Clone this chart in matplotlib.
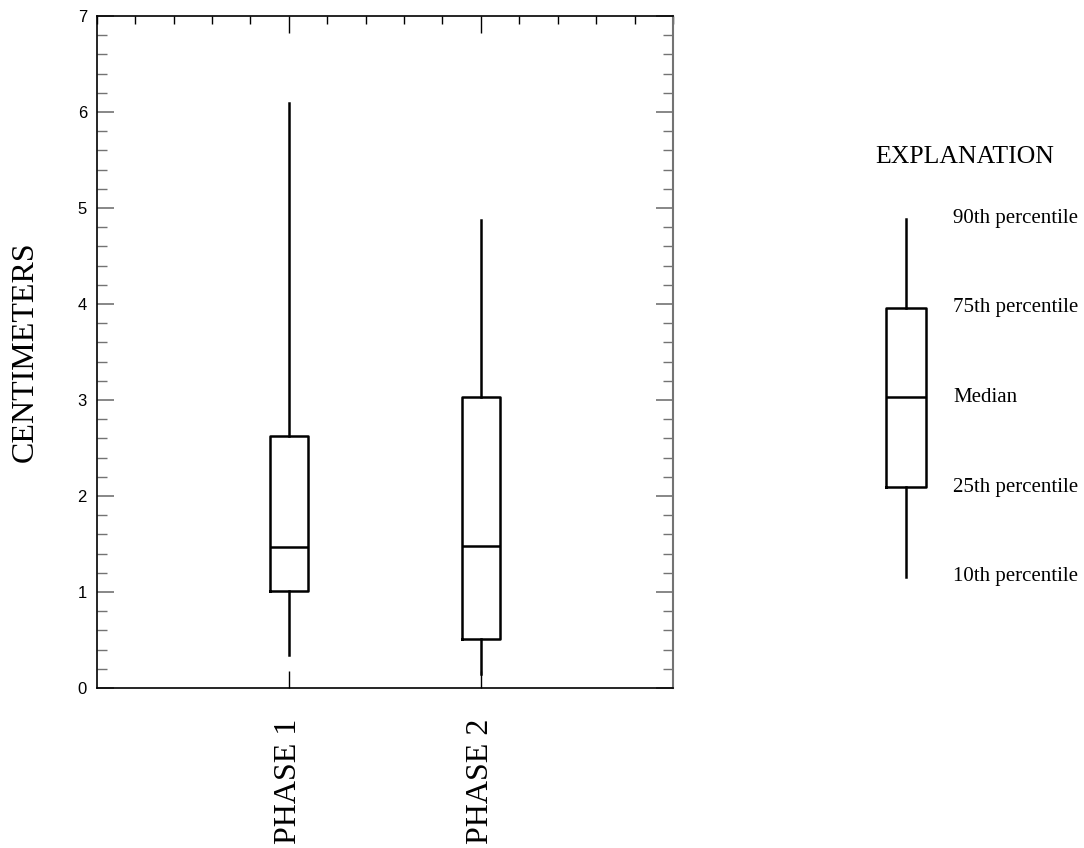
import matplotlib
matplotlib.use('Agg')
import matplotlib.pyplot as plt
from matplotlib.ticker import MultipleLocator

# Hodnoty odčítané z grafu (cm)
faze = ['PHASE 1', 'PHASE 2']
p10 = [0.34, 0.15]
p25 = [1.01, 0.51]
p50 = [1.47, 1.48]
p75 = [2.62, 3.03]
p90 = [6.09, 4.87]

# Vysvetlivka
vysv_hodnoty = [1.16, 2.09, 3.03, 3.96, 4.89]  # 10, 25, 50, 75, 90
vysv_popisy = ['10th percentile', '25th percentile', 'Median',
               '75th percentile', '90th percentile']

serif = 'Liberation Serif'
sans = 'Liberation Sans'

fig = plt.figure(figsize=(10.84, 8.48), dpi=100)
ax = fig.add_axes([0.0892, 0.1887, 0.5316, 0.7925])

stats = []
for i in range(len(faze)):
    stats.append({'whislo': p10[i], 'q1': p25[i], 'med': p50[i],
                  'q3': p75[i], 'whishi': p90[i], 'fliers': []})

line = dict(color='black', linewidth=1.8)
ax.bxp(stats, positions=[1, 2], widths=0.2, showcaps=False, showfliers=False,
       boxprops=line, whiskerprops=line, medianprops=line)

ax.set_xlim(0, 3)
ax.set_ylim(0, 7)
ax.set_xticks([1, 2])
ax.set_xticklabels(faze, rotation=90, va='top', fontfamily=serif, fontsize=23)
ax.xaxis.set_minor_locator(MultipleLocator(0.2))
ax.yaxis.set_major_locator(MultipleLocator(1))
ax.yaxis.set_minor_locator(MultipleLocator(0.2))

ax.tick_params(axis='x', which='major', direction='in', length=12, width=1,
               top=True, bottom=True, pad=22)
ax.tick_params(axis='x', which='minor', direction='in', length=6, width=1,
               top=True, bottom=False)
ax.tick_params(axis='y', which='major', direction='in', length=12, width=1.2,
               left=True, right=True, color='0.45', labelsize=12, pad=7)
ax.tick_params(axis='y', which='minor', direction='in', length=7, width=1,
               left=True, right=True, color='0.45')
for lab in ax.get_yticklabels():
    lab.set_fontfamily(sans)

for s in ['top', 'bottom', 'left']:
    ax.spines[s].set_linewidth(1.2)
ax.spines['right'].set_color('0.45')
ax.spines['right'].set_linewidth(1.5)

ax.set_ylabel('CENTIMETERS', fontfamily=serif, fontsize=23)
ax.yaxis.set_label_coords(-0.099, 0.5)

# Vysvetlivka - samostatné osi s rovnakou mierkou y
axl = fig.add_axes([845 / 1084, 0.1887, 239 / 1084, 0.7925])
axl.set_xlim(0, 1)
axl.set_ylim(0, 7)
axl.axis('off')
leg = [{'whislo': vysv_hodnoty[0], 'q1': vysv_hodnoty[1], 'med': vysv_hodnoty[2],
        'q3': vysv_hodnoty[3], 'whishi': vysv_hodnoty[4], 'fliers': []}]
axl.bxp(leg, positions=[0.254], widths=0.167, showcaps=False, showfliers=False,
        boxprops=line, whiskerprops=line, medianprops=line)
for hodnota, popis in zip(vysv_hodnoty, vysv_popisy):
    axl.text(0.452, hodnota, popis, fontfamily=serif, fontsize=15,
             va='center', ha='left')
axl.text(0.502, 5.53, 'EXPLANATION', fontfamily=serif, fontsize=18.5,
         va='center', ha='center')

fig.savefig('out.png', dpi=100)
